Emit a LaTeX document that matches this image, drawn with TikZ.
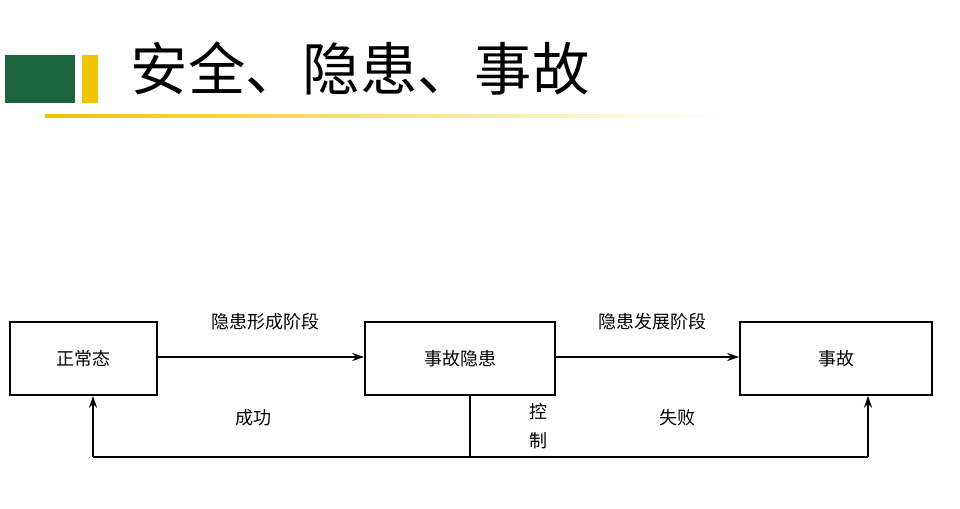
\documentclass[tikz,border=0pt]{standalone}
\usepackage{fontspec}
\setmainfont{Noto Sans CJK SC}
\usetikzlibrary{arrows.meta}
\definecolor{hdgreen}{RGB}{28,100,62}
\definecolor{hdyellow}{RGB}{240,196,0}
\begin{document}
\begin{tikzpicture}[x=0.75pt,y=-0.75pt,
  box/.style={draw,line width=1.2pt,minimum width=#1*0.75pt,minimum height=73*0.75pt,inner sep=0pt,font=\fontsize{13.5}{15}\selectfont},
  lab/.style={font=\fontsize{13.5}{15}\selectfont},
  ar/.style={line width=1.2pt,-{Stealth[length=9pt,width=6pt]}}]
\useasboundingbox (0,0) rectangle (960,509);
\fill[white] (0,0) rectangle (960,509);
\fill[hdgreen] (5,55) rectangle (75,103);
\fill[hdyellow] (82,55) rectangle (98,103);
\node[anchor=west,font=\fontsize{43}{46}\selectfont] (title) at (126,68) {安全、隐患、事故};
\shade[left color=hdyellow,right color=white] (45,115) rectangle (720,117.5);
\node[box=147] (a) at (83.5,358.5) {正常态};
\node[box=190] (b) at (460,358.5) {事故隐患};
\node[box=192] (c) at (836,358.5) {事故};
\draw[ar] (a.east|-0,357) -- (b.west|-0,357);
\draw[ar] (b.east|-0,357) -- (c.west|-0,357);
\node[lab] (l1) at (265,322) {隐患形成阶段};
\node[lab] (l2) at (652,322) {隐患发展阶段};
\coordinate (p1) at (470,457);
\coordinate (p0) at (93,457);
\coordinate (p2) at (868,457);
\draw[line width=1.2pt] (b.south-|p1) -- (p1);
\draw[line width=1.2pt] (p0) -- (p2);
\draw[ar] (p0) -- (a.south-|p0);
\draw[ar] (p2) -- (c.south-|p2);
\node[lab] (s) at (253,418) {成功};
\node[lab,align=center,font=\fontsize{13.5}{22}\selectfont] (k) at (538,426) {控\\制};
\node[lab] (f) at (677,418) {失败};
\end{tikzpicture}
\end{document}
